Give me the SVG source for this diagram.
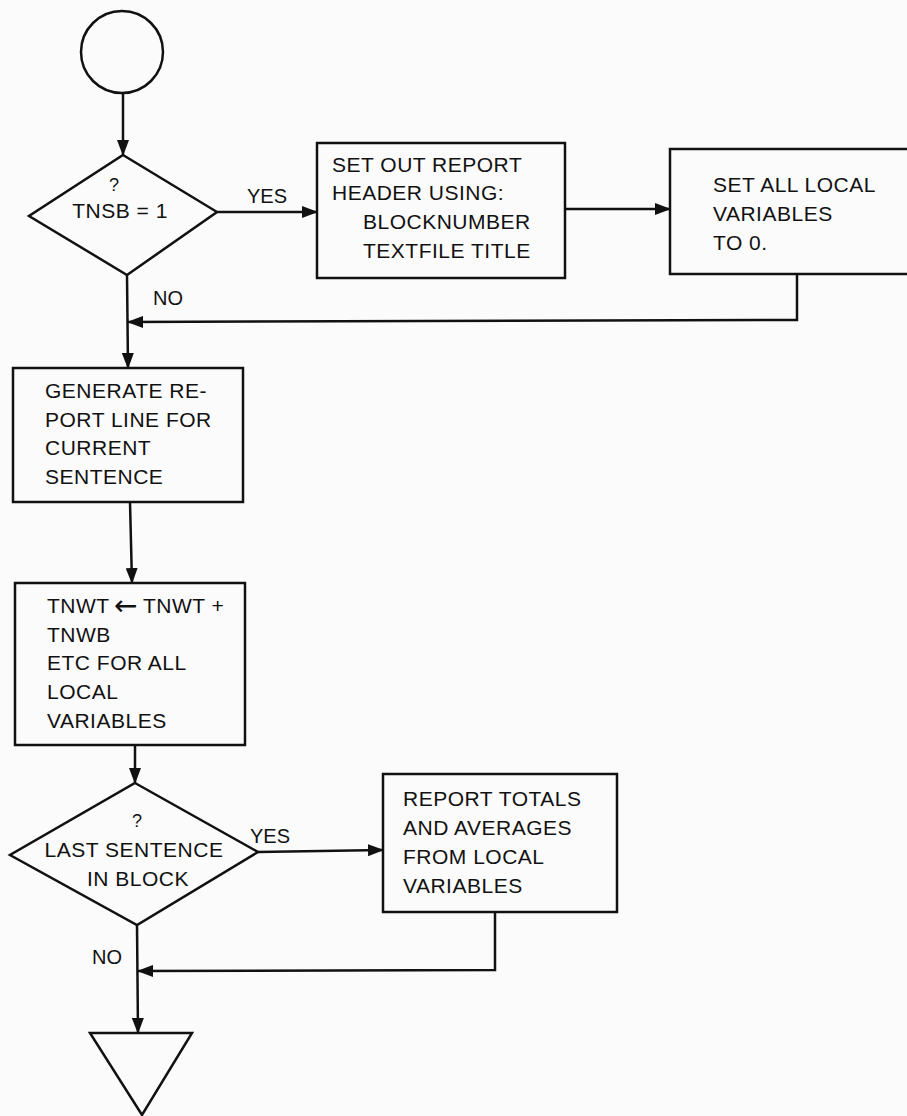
<svg xmlns="http://www.w3.org/2000/svg" width="907" height="1116" viewBox="0 0 907 1116">
<defs>
<style>
.s{fill:none;stroke:#111;stroke-width:2.5;stroke-linejoin:miter}
.c{fill:none;stroke:#111;stroke-width:2.5}
text{font-family:"Liberation Sans","DejaVu Sans",Arial,sans-serif;font-size:21px;fill:#111;letter-spacing:0.5px}
.lb{font-size:20px;letter-spacing:0}
.q{font-size:18px;letter-spacing:0}
.m{text-anchor:middle}
.ar{font-family:"DejaVu Sans",sans-serif;font-size:28px;letter-spacing:0}
</style>
<marker id="ah" markerUnits="userSpaceOnUse" markerWidth="16" markerHeight="12" refX="15" refY="6" orient="auto">
<path d="M0,0 L16,6 L0,12 Z" fill="#111"/>
</marker>
</defs>
<rect x="0" y="0" width="907" height="1116" fill="#fbfbfb"/>

<g id="connectors">
<path class="c" d="M123,93 L123,155" marker-end="url(#ah)"/>
<path class="c" d="M217,212 L317,212" marker-end="url(#ah)"/>
<path class="c" d="M565,209 L670,209" marker-end="url(#ah)"/>
<path class="c" d="M797,274 L797,320 L128,322" marker-end="url(#ah)"/>
<path class="c" d="M127,275 L128,368" marker-end="url(#ah)"/>
<path class="c" d="M130,502 L132,583" marker-end="url(#ah)"/>
<path class="c" d="M135,745 L135,783" marker-end="url(#ah)"/>
<path class="c" d="M258,852 L383,850" marker-end="url(#ah)"/>
<path class="c" d="M495,912 L495,970 L138,971" marker-end="url(#ah)"/>
<path class="c" d="M137,925 L138,1033" marker-end="url(#ah)"/>
<text class="lb" x="247" y="203">YES</text>
<text class="lb" x="153" y="305">NO</text>
<text class="lb" x="250" y="843">YES</text>
<text class="lb" x="92" y="964">NO</text>
</g>

<g id="start">
<circle class="s" cx="122" cy="52" r="41"/>
</g>

<g id="decision1">
<polygon class="s" points="123,155 217,212 127,275 29,216"/>
<text class="q m" x="114" y="191">?</text>
<text class="m" x="120" y="218">TNSB = 1</text>
</g>

<g id="header">
<rect class="s" x="317" y="143" width="248" height="135"/>
<text x="332" y="172">SET OUT REPORT</text>
<text x="332" y="200">HEADER USING:</text>
<text x="363" y="229">BLOCKNUMBER</text>
<text x="363" y="258">TEXTFILE TITLE</text>
</g>

<g id="setlocal">
<rect class="s" x="670" y="149" width="245" height="125"/>
<text x="713" y="192">SET ALL LOCAL</text>
<text x="713" y="221">VARIABLES</text>
<text x="713" y="250">TO 0.</text>
</g>

<g id="generate">
<rect class="s" x="13" y="368" width="230" height="134"/>
<text x="45" y="398">GENERATE RE-</text>
<text x="45" y="427">PORT LINE FOR</text>
<text x="45" y="455">CURRENT</text>
<text x="45" y="484">SENTENCE</text>
</g>

<g id="accumulate">
<rect class="s" x="15" y="583" width="230" height="162"/>
<text x="47" y="613">TNWT</text>
<text class="ar" x="114" y="615">←</text>
<text x="143" y="613">TNWT +</text>
<text x="47" y="642">TNWB</text>
<text x="47" y="670">ETC FOR ALL</text>
<text x="47" y="699">LOCAL</text>
<text x="47" y="728">VARIABLES</text>
</g>

<g id="decision2">
<polygon class="s" points="135,783 258,852 137,925 10,855"/>
<text class="q m" x="137" y="827">?</text>
<text class="m" x="134" y="857">LAST SENTENCE</text>
<text class="m" x="138" y="886">IN BLOCK</text>
</g>

<g id="totals">
<rect class="s" x="383" y="774" width="234" height="138"/>
<text x="403" y="806">REPORT TOTALS</text>
<text x="403" y="835">AND AVERAGES</text>
<text x="403" y="864">FROM LOCAL</text>
<text x="403" y="893">VARIABLES</text>
</g>

<g id="end">
<polygon class="s" points="90,1033 192,1033 142,1115"/>
</g>
</svg>
